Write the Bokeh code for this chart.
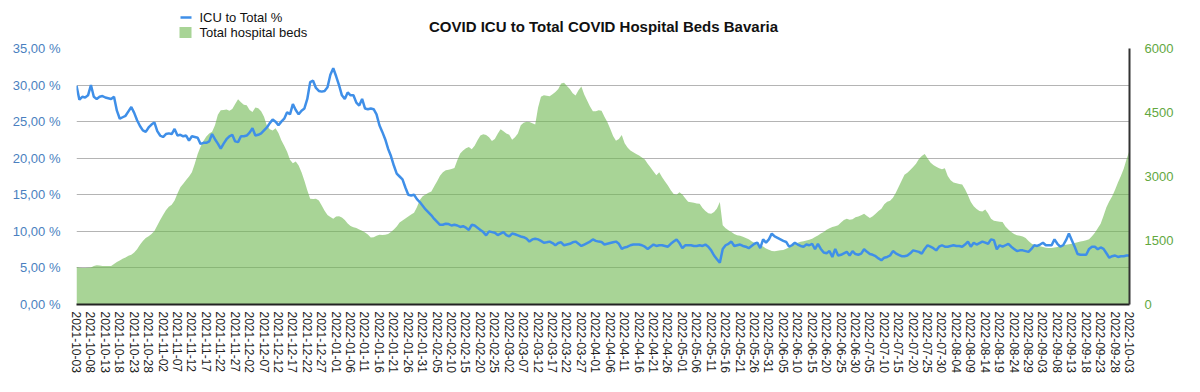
import pandas as pd
from math import pi
from bokeh.plotting import figure
from bokeh.layouts import column
from bokeh.models import (Range1d, LinearAxis, FixedTicker, DatetimeTickFormatter,
                          ColumnDataSource)
from bokeh.core.properties import value
from bokeh.embed import file_html
from bokeh.resources import INLINE

# ---------------- data ----------------
start_date = "2021-10-03"
end_date = "2022-10-03"
dates = pd.date_range(start_date, end_date, freq="D")
tick_dates = dates[::5]

icu_pct = [
    29.9, 28.0, 28.4, 28.3, 28.6, 30.0, 28.4, 28.1, 28.4, 28.5,
    28.3, 28.2, 28.1, 28.4, 26.5, 25.4, 25.6, 25.8, 26.4, 27.0,
    26.2, 25.2, 24.4, 23.8, 23.6, 24.2, 24.6, 24.9, 23.7, 23.1,
    22.9, 23.3, 23.4, 23.3, 24.0, 23.1, 23.2, 23.0, 23.1, 22.4,
    23.0, 22.9, 22.8, 21.95, 22.1, 22.1, 22.3, 23.3, 22.6, 22.0,
    21.3, 22.0, 22.6, 23.0, 23.2, 22.3, 22.2, 23.0, 23.0, 23.1,
    23.5, 24.1, 23.1, 23.2, 23.4, 23.8, 24.2, 24.8, 25.3, 25.0,
    24.5, 25.0, 25.4, 26.3, 26.0, 27.4, 26.6, 26.0, 26.5, 26.8,
    28.1, 30.4, 30.6, 29.6, 29.2, 29.1, 29.2, 29.7, 31.4, 32.3,
    31.2, 30.0, 28.6, 28.1, 29.0, 28.6, 28.6, 27.6, 27.2, 28.1,
    26.8, 26.7, 26.8, 26.7, 26.0, 24.5, 23.6, 22.6, 21.3, 20.3,
    19.0, 17.9, 17.5, 17.1, 16.0, 15.0, 14.9, 15.0, 14.4, 14.0,
    13.5, 13.0, 12.6, 12.2, 11.7, 11.3, 10.9, 10.9, 11.05, 11.0,
    10.8, 10.9, 10.8, 10.6, 10.7, 10.5, 10.2, 10.9, 10.8, 10.5,
    10.2, 9.9, 9.45, 10.0, 9.9, 9.8, 9.5, 9.7, 9.9, 9.5,
    9.3, 9.7, 9.6, 9.45, 9.3, 9.2, 9.0, 8.6, 8.9, 9.0,
    8.9, 8.7, 8.45, 8.5, 8.6, 8.4, 8.1, 8.4, 8.5, 8.1,
    8.2, 8.3, 8.5, 8.6, 8.3, 8.0, 8.2, 8.4, 8.6, 8.9,
    8.7, 8.6, 8.55, 8.2, 8.3, 8.4, 8.5, 8.6, 8.3, 7.6,
    7.8, 7.9, 8.1, 8.2, 8.2, 8.2, 8.1, 7.9, 7.6, 7.9,
    8.2, 8.0, 8.1, 8.1, 8.0, 7.9, 8.3, 8.6, 8.9, 8.4,
    7.7, 8.1, 8.1, 8.1, 8.0, 8.0, 8.1, 8.0, 8.2, 7.9,
    7.4, 6.7, 6.2, 5.7, 7.6, 8.1, 8.3, 8.6, 8.0, 8.1,
    8.2, 8.0, 7.9, 7.7, 8.0, 8.3, 8.45, 7.7, 8.9, 8.45,
    8.9, 9.7, 9.3, 9.1, 8.9, 8.7, 8.55, 7.9, 8.1, 8.45,
    8.2, 8.0, 7.9, 8.2, 8.1, 8.3, 7.55, 8.3, 7.6, 7.1,
    7.0, 7.3, 6.5, 7.6, 6.7, 6.8, 7.0, 7.2, 6.7, 7.3,
    6.9, 6.8, 6.95, 7.55, 7.2, 6.9, 6.8, 6.6, 6.3, 6.05,
    6.4, 6.5, 6.7, 7.3, 7.0, 6.8, 6.6, 6.6, 6.7, 7.0,
    7.4, 7.3, 7.2, 6.95, 7.6, 8.1, 7.9, 7.7, 7.4, 7.9,
    8.1, 7.9, 7.9, 8.0, 8.1, 8.0, 8.0, 7.9, 8.2, 8.6,
    7.9, 8.45, 8.2, 8.4, 8.6, 8.45, 8.3, 8.9, 8.8, 7.55,
    8.1, 7.9, 8.1, 8.3, 7.9, 7.6, 7.3, 7.4, 7.4, 7.3,
    7.2, 7.6, 8.1, 8.0, 8.2, 8.45, 8.1, 8.1, 8.1, 8.9,
    8.3, 7.9, 8.1, 8.8, 9.7, 8.8, 7.9, 6.9, 6.8, 6.8,
    6.8, 7.6, 7.9, 7.9, 7.55, 7.8, 7.6, 7.0, 6.4, 6.6,
    6.7, 6.5, 6.6, 6.6, 6.7, 6.7,
]

hospital_beds = [
    880, 860, 855, 855, 860, 865, 900, 920, 915, 905,
    900, 900, 905, 950, 995, 1030, 1070, 1100, 1140, 1165,
    1220, 1295, 1400, 1490, 1560, 1600, 1650, 1720, 1850, 1980,
    2100, 2210, 2290, 2340, 2440, 2600, 2750, 2830, 2920, 3000,
    3100, 3300, 3530, 3700, 3830, 3940, 4010, 4050, 4200, 4450,
    4550, 4560, 4570, 4540, 4580, 4700, 4810, 4740, 4680, 4670,
    4560, 4510, 4620, 4600, 4530, 4400, 4190, 4110, 4080, 4130,
    4020, 3850, 3720, 3580, 3390, 3310, 3350, 3260, 3100, 2900,
    2680, 2480, 2470, 2480, 2440, 2320, 2200, 2100, 2050, 2010,
    2060, 2070, 2040, 1980, 1900, 1840, 1810, 1795, 1760, 1730,
    1690, 1640, 1570, 1575, 1610, 1635, 1630, 1636, 1650, 1700,
    1760, 1830, 1920, 1970, 2015, 2060, 2110, 2150, 2280, 2450,
    2540, 2580, 2620, 2650, 2770, 2890, 3020, 3100, 3145, 3160,
    3175, 3200, 3380, 3540, 3610, 3660, 3690, 3640, 3720, 3850,
    3960, 3990, 3975, 3920, 3830, 3880, 4000, 4110, 4060, 4010,
    3980, 3860, 3920, 4010, 4200, 4260, 4285, 4280, 4250, 4220,
    4620, 4870, 4905, 4895, 4880, 4930, 4980, 5050, 5180, 5200,
    5120, 5050, 4950, 4900, 5020, 5110, 4920, 4780, 4640, 4530,
    4530, 4550, 4540, 4400, 4280, 4120, 3950, 3840, 3880, 3970,
    3780, 3680, 3610, 3570, 3530, 3490, 3445, 3400, 3300, 3210,
    3120, 3030, 3100, 2980, 2880, 2790, 2680, 2590, 2575, 2630,
    2580, 2490, 2410, 2395, 2385, 2370, 2360, 2260, 2190, 2140,
    2127, 2170, 2250, 2400, 1860, 1790, 1740, 1700, 1650, 1625,
    1610, 1590, 1560, 1530, 1480, 1440, 1405, 1390, 1360, 1310,
    1285, 1255, 1250, 1262, 1270, 1280, 1305, 1335, 1380, 1415,
    1450, 1470, 1485, 1500, 1520, 1543, 1580, 1620, 1665, 1700,
    1750, 1790, 1815, 1835, 1855, 1920, 1980, 2010, 1985, 2000,
    2045, 2065, 2090, 2125, 2075, 2030, 2070, 2125, 2190, 2245,
    2350, 2410, 2430, 2500, 2620, 2760, 2900, 3040, 3090, 3150,
    3220, 3300, 3410, 3480, 3530, 3430, 3330, 3270, 3230, 3195,
    3170, 3195, 3010, 2910, 2860, 2840, 2825, 2810, 2700, 2560,
    2400, 2300, 2240, 2190, 2180, 2228, 2130, 2010, 1960, 1950,
    1940, 1932, 1830, 1760, 1700, 1650, 1625, 1610, 1595, 1560,
    1490, 1430, 1395, 1387, 1365, 1348, 1330, 1325, 1325, 1335,
    1348, 1385, 1395, 1403, 1412, 1425, 1440, 1460, 1478, 1490,
    1504, 1530, 1600, 1680, 1790, 1890, 2080, 2280, 2420, 2540,
    2690, 2860, 3010, 3180, 3410, 3610,
]

left_ticks = [0, 5, 10, 15, 20, 25, 30, 35]
left_tick_labels = ["0,00 %", "5,00 %", "10,00 %", "15,00 %", "20,00 %",
                    "25,00 %", "30,00 %", "35,00 %"]
right_ticks = [0, 1500, 3000, 4500, 6000]
right_tick_labels = ["0", "1500", "3000", "4500", "6000"]

title_text = "COVID ICU to Total COVID Hospital Beds Bavaria"
series_names = ["ICU to Total %", "Total hospital beds"]

# ---------------- styling ----------------
FONT = "Liberation Sans"
BLUE = "#3f8fe8"
GREEN = "#6eb750"
LEFT_LABEL = "#4a7fc0"
RIGHT_LABEL = "#62a83f"
W = 1200
HEADER_H = 40
BORDER_L, BORDER_R = 76, 71

# ---------------- header (title + legend) ----------------
# the column layout aligns this frame with the main plot frame,
# so the x range is set to page pixels of that frame
header = figure(width=W, height=HEADER_H, x_range=Range1d(BORDER_L, W - BORDER_R),
                y_range=Range1d(HEADER_H, 0), output_backend="svg",
                toolbar_location=None, x_axis_location=None,
                y_axis_location=None, min_border=0,
                min_border_left=BORDER_L, min_border_right=BORDER_R,
                outline_line_color=None)
header.grid.visible = False
header.text(x=[603], y=[26], text=[title_text], text_font=value(FONT),
            text_font_style="bold", text_font_size="15px",
            text_align="center", text_baseline="middle", text_color="#111111")
# legend keys
header.line(x=[180, 191], y=[17, 17], line_color=BLUE, line_width=2.5)
header.quad(left=[179], right=[191], top=[26.5], bottom=[37.5],
            fill_color=GREEN, fill_alpha=0.6, line_color=None)
header.text(x=[199, 199], y=[17, 32], text=series_names, text_font=value(FONT),
            text_font_size="13px", text_align="left", text_baseline="middle",
            text_color="#111111")

# ---------------- main plot ----------------
src = ColumnDataSource(dict(date=dates, icu=icu_pct, beds=hospital_beds))

p = figure(width=W, height=392 - HEADER_H, x_axis_type="datetime",
           x_range=Range1d(dates[0], dates[-1]), y_range=Range1d(0, 35),
           output_backend="svg", toolbar_location=None,
           min_border_left=BORDER_L, min_border_right=BORDER_R, min_border_top=8,
           min_border_bottom=88, outline_line_color=None)
p.extra_y_ranges = {"beds": Range1d(0, 6000)}

area = p.varea(x="date", y1=0, y2="beds", source=src, y_range_name="beds",
               fill_color=GREEN, fill_alpha=0.6)
line = p.line(x="date", y="icu", source=src, line_color=BLUE, line_width=2.5)

# left axis
ya = p.yaxis[0]
ya.ticker = FixedTicker(ticks=left_ticks)
ya.major_label_overrides = {t: l for t, l in zip(left_ticks, left_tick_labels)}
ya.axis_line_color = None
ya.major_tick_line_color = None
ya.minor_tick_line_color = None
ya.major_tick_out = 0
ya.major_label_standoff = 16
ya.major_label_text_color = LEFT_LABEL
ya.major_label_text_font = FONT
ya.major_label_text_font_size = "13px"

# right axis
ra = LinearAxis(y_range_name="beds", ticker=FixedTicker(ticks=right_ticks))
ra.major_label_overrides = {t: l for t, l in zip(right_ticks, right_tick_labels)}
ra.axis_line_color = "#333333"
ra.axis_line_width = 2
ra.major_tick_line_color = None
ra.minor_tick_line_color = None
ra.major_tick_out = 0
ra.major_label_standoff = 15
ra.major_label_text_color = RIGHT_LABEL
ra.major_label_text_font = FONT
ra.major_label_text_font_size = "13px"
p.add_layout(ra, "right")

# bottom axis
xa = p.xaxis[0]
xa.ticker = FixedTicker(ticks=(tick_dates.asi8 // 10**6).tolist())
fmt = "%Y-%m-%d"
xa.formatter = DatetimeTickFormatter(days=fmt, months=fmt, years=fmt, hours=fmt,
                                     hourmin=fmt, minutes=fmt, minsec=fmt,
                                     seconds=fmt, milliseconds=fmt,
                                     microseconds=fmt)
xa.major_label_orientation = -pi / 2
xa.axis_line_color = "#222222"
xa.axis_line_width = 2
xa.major_tick_line_color = None
xa.minor_tick_line_color = None
xa.major_tick_out = 0
xa.major_label_standoff = 7
xa.major_label_text_color = "#222222"
xa.major_label_text_font = FONT
xa.major_label_text_font_size = "12px"

# grid
p.xgrid.visible = False
p.ygrid.ticker = FixedTicker(ticks=left_ticks)
p.ygrid.grid_line_color = "#b4b4b4"
p.ygrid.grid_line_width = 1

layout = column(header, p, spacing=0)
open("out.html", "w").write(file_html(layout, INLINE))
